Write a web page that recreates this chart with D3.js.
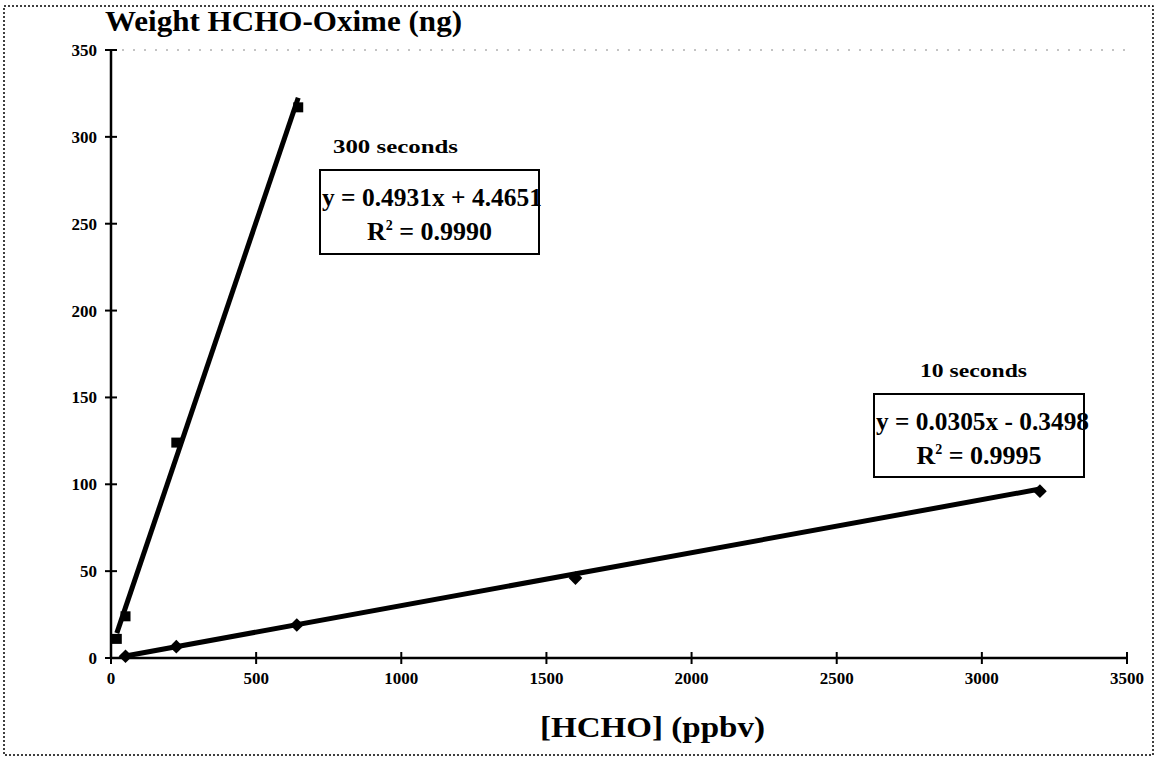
<!DOCTYPE html>
<html>
<head>
<meta charset="utf-8">
<script src="https://cdn.jsdelivr.net/npm/d3@7"></script>
<style>
  body { margin: 0; background: #fff; }
  text { font-family: "Liberation Serif", "DejaVu Serif", serif; fill: #000; }
</style>
</head>
<body>
<div id="chart"></div>
<script>
// data
var xTicks = [0, 500, 1000, 1500, 2000, 2500, 3000, 3500];
var yTicks = [0, 50, 100, 150, 200, 250, 300, 350];

var conc300 = [20, 50, 225, 645];
var weight300 = [11, 24, 124, 317];
var fit300 = { slope: 0.4931, icpt: 4.4651 };

var conc10 = [50, 225, 640, 1600, 3200];
var weight10 = [1, 6.5, 19, 46, 96];
var fit10 = { slope: 0.0305, icpt: -0.3498 };

var w = 1157, h = 759;
var x = d3.scaleLinear().domain([0, 3500]).range([111, 1127]);
var y = d3.scaleLinear().domain([0, 350]).range([658, 50]);

var svg = d3.select("#chart").append("svg").attr("width", w).attr("height", h);

// dotted frame
svg.append("rect")
  .attr("x", 4).attr("y", 6).attr("width", 1149).attr("height", 749)
  .attr("fill", "none").attr("stroke", "#000").attr("stroke-width", 1.5)
  .attr("stroke-dasharray", "2,2");

// faint top border of plot area
svg.append("line")
  .attr("x1", x(0)).attr("x2", x(3500)).attr("y1", y(350)).attr("y2", y(350))
  .attr("stroke", "#888").attr("stroke-width", 1).attr("stroke-dasharray", "2,9");

// axes
svg.append("line")
  .attr("x1", x(0)).attr("x2", x(3500)).attr("y1", y(0)).attr("y2", y(0))
  .attr("stroke", "#000").attr("stroke-width", 2.5);
svg.append("line")
  .attr("x1", x(0)).attr("x2", x(0)).attr("y1", y(0)).attr("y2", y(350))
  .attr("stroke", "#000").attr("stroke-width", 2.5);

svg.selectAll(".xt").data(xTicks).enter().append("line")
  .attr("x1", function (d) { return x(d); })
  .attr("x2", function (d) { return x(d); })
  .attr("y1", y(0) - 6).attr("y2", y(0) + 6)
  .attr("stroke", "#000").attr("stroke-width", 2);
svg.selectAll(".xl").data(xTicks).enter().append("text")
  .attr("x", function (d) { return x(d); })
  .attr("y", y(0) + 26)
  .attr("text-anchor", "middle")
  .style("font-size", "17px").style("font-weight", "bold")
  .text(function (d) { return d; });

svg.selectAll(".yt").data(yTicks).enter().append("line")
  .attr("x1", x(0) - 6).attr("x2", x(0) + 6)
  .attr("y1", function (d) { return y(d); })
  .attr("y2", function (d) { return y(d); })
  .attr("stroke", "#000").attr("stroke-width", 2);
svg.selectAll(".yl").data(yTicks).enter().append("text")
  .attr("x", x(0) - 14)
  .attr("y", function (d) { return y(d) + 6; })
  .attr("text-anchor", "end")
  .style("font-size", "17px").style("font-weight", "bold")
  .text(function (d) { return d; });

// titles
svg.append("text").attr("x", 105).attr("y", 31)
  .attr("textLength", 357).attr("lengthAdjust", "spacingAndGlyphs")
  .style("font-size", "29px").style("font-weight", "bold")
  .text("Weight HCHO-Oxime (ng)");
svg.append("text").attr("x", 540).attr("y", 737)
  .attr("textLength", 225).attr("lengthAdjust", "spacingAndGlyphs")
  .style("font-size", "29px").style("font-weight", "bold")
  .text("[HCHO] (ppbv)");

// trend lines
function trend(cs, fit) {
  var ext = d3.extent(cs);
  svg.append("line")
    .attr("x1", x(ext[0])).attr("y1", y(fit.slope * ext[0] + fit.icpt))
    .attr("x2", x(ext[1])).attr("y2", y(fit.slope * ext[1] + fit.icpt))
    .attr("stroke", "#000").attr("stroke-width", 5);
}
trend(conc300, fit300);
trend(conc10, fit10);

// markers
svg.selectAll(".sq").data(conc300).enter().append("rect")
  .attr("x", function (d) { return x(d) - 5; })
  .attr("y", function (d, i) { return y(weight300[i]) - 5; })
  .attr("width", 10).attr("height", 10)
  .attr("fill", "#000");

svg.selectAll(".dm").data(conc10).enter().append("path")
  .attr("d", d3.symbol().type(d3.symbolDiamond2).size(120))
  .attr("transform", function (d, i) {
    return "translate(" + x(d) + "," + y(weight10[i]) + ")";
  })
  .attr("fill", "#000");

// equation labels
function eqBox(bx, by, bw, bh, cap, capX, capY, capW, eq, eqW, r2) {
  svg.append("text").attr("x", capX).attr("y", capY)
    .attr("textLength", capW).attr("lengthAdjust", "spacingAndGlyphs")
    .style("font-size", "18px").style("font-weight", "bold")
    .text(cap);
  svg.append("rect").attr("x", bx).attr("y", by).attr("width", bw).attr("height", bh)
    .attr("fill", "#fff").attr("stroke", "#000").attr("stroke-width", 2);
  svg.append("text").attr("x", bx + 2).attr("y", by + 36)
    .attr("textLength", eqW).attr("lengthAdjust", "spacingAndGlyphs")
    .style("font-size", "25px").style("font-weight", "bold")
    .text(eq);
  var t = svg.append("text").attr("x", bx + bw / 2).attr("y", by + 70)
    .attr("text-anchor", "middle")
    .style("font-size", "26px").style("font-weight", "bold");
  t.append("tspan").text("R");
  t.append("tspan").attr("dy", -10).style("font-size", "14px").text("2");
  t.append("tspan").attr("dy", 10).text(" = " + r2);
}
eqBox(320, 170, 219, 84, "300 seconds", 333, 153, 125, "y = 0.4931x + 4.4651", 220, "0.9990");
eqBox(874, 394, 210, 83, "10 seconds", 920, 377, 107, "y = 0.0305x - 0.3498", 213, "0.9995");
</script>
</body>
</html>
